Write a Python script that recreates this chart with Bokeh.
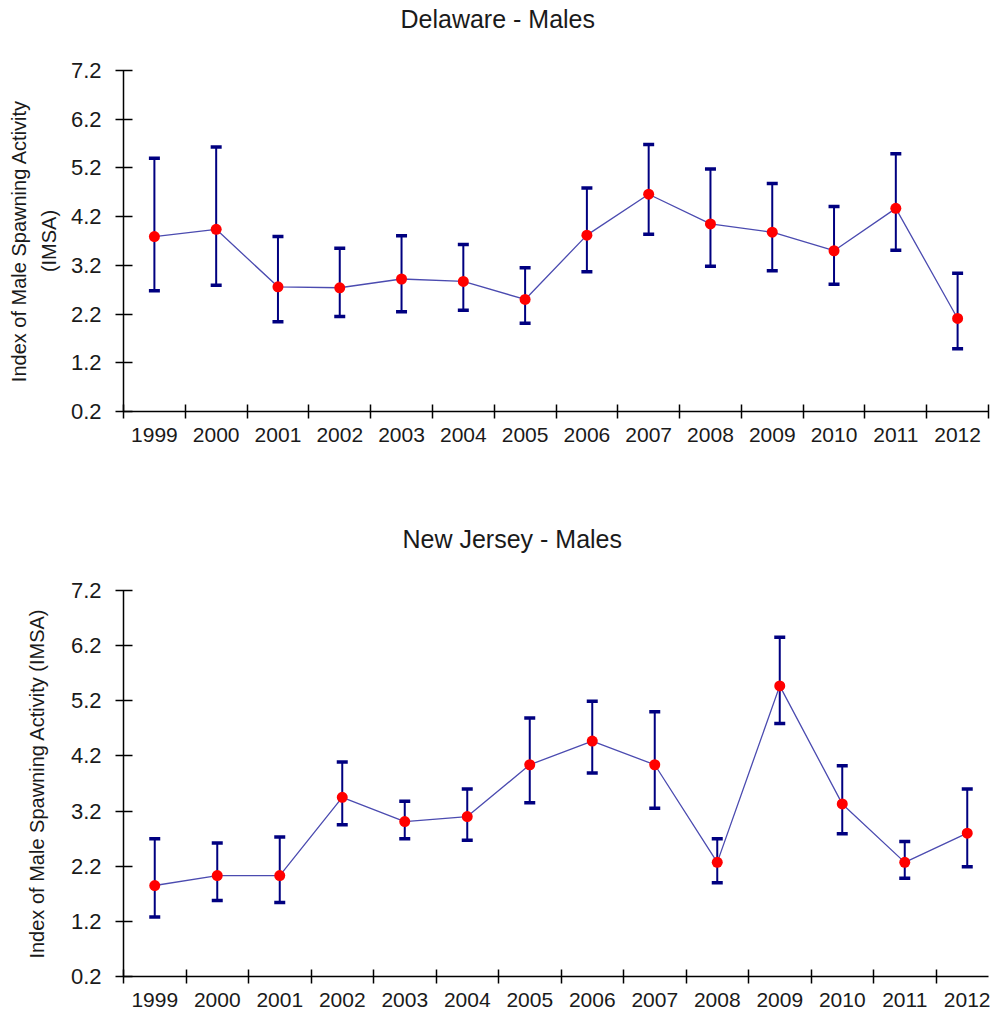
from bokeh.plotting import figure
from bokeh.layouts import column
from bokeh.models import (Range1d, FixedTicker, ColumnDataSource, Whisker, TeeHead, Title)
from bokeh.embed import file_html
from bokeh.resources import INLINE

# ---------------- data ----------------
years = ["1999", "2000", "2001", "2002", "2003", "2004", "2005",
         "2006", "2007", "2008", "2009", "2010", "2011", "2012"]

de_mean = [3.79, 3.94, 2.76, 2.74, 2.92, 2.87, 2.50, 3.82, 4.66, 4.05, 3.88, 3.50, 4.37, 2.11]
de_upper = [5.40, 5.63, 3.79, 3.55, 3.81, 3.63, 3.15, 4.79, 5.68, 5.18, 4.88, 4.41, 5.49, 3.04]
de_lower = [2.68, 2.79, 2.04, 2.15, 2.25, 2.28, 2.01, 3.07, 3.84, 3.18, 3.09, 2.81, 3.51, 1.49]

nj_mean = [1.85, 2.03, 2.03, 3.45, 3.01, 3.10, 4.04, 4.47, 4.04, 2.27, 5.47, 3.33, 2.27, 2.80]
nj_upper = [2.70, 2.62, 2.73, 4.09, 3.38, 3.60, 4.89, 5.19, 5.00, 2.70, 6.35, 4.02, 2.65, 3.60]
nj_lower = [1.28, 1.58, 1.54, 2.95, 2.70, 2.67, 3.35, 3.89, 3.25, 1.90, 4.79, 2.79, 1.98, 2.19]

y_ticks = [0.2, 1.2, 2.2, 3.2, 4.2, 5.2, 6.2, 7.2]

FONT = "Liberation Sans"
TXT = "#1a1a1a"


def make_panel(title, ylabel, mean, lower, upper, width, height, mb_top, mb_bottom,
               mb_right, x_end, title_offset, label_standoff):
    n = len(years)
    xs = [i + 0.5 for i in range(n)]
    p = figure(width=width, height=height, output_backend="svg", toolbar_location=None,
               x_range=Range1d(0, x_end), y_range=Range1d(0.2, 7.2),
               min_border_left=123, min_border_right=mb_right,
               min_border_top=mb_top, min_border_bottom=mb_bottom,
               background_fill_color="white", border_fill_color="white")
    # blank spacer between frame and title (title itself is outermost)
    p.add_layout(Title(text=" ", standoff=0, text_font=FONT, text_font_size="32px"), "above")
    p.title = Title(text=title, align="left", offset=title_offset, standoff=0,
                    text_font=FONT, text_font_size="25px", text_font_style="normal",
                    text_color=TXT)
    p.outline_line_color = None
    p.grid.visible = False

    # x axis: labels centred in each slot, boundary ticks as minor ticks
    xa = p.xaxis[0]
    xa.ticker = FixedTicker(ticks=xs, minor_ticks=list(range(n + 1)))
    xa.major_label_overrides = {x: y for x, y in zip(xs, years)}
    xa.major_tick_line_color = None
    xa.major_tick_in = 0
    xa.major_tick_out = 7
    xa.minor_tick_in = 7
    xa.minor_tick_out = 7
    xa.minor_tick_line_color = "black"
    xa.minor_tick_line_width = 1.5
    xa.axis_line_color = "black"
    xa.axis_line_width = 1.5
    xa.major_label_standoff = 9
    xa.major_label_text_font = FONT
    xa.major_label_text_font_size = "21px"
    xa.major_label_text_color = TXT

    ya = p.yaxis[0]
    ya.ticker = FixedTicker(ticks=y_ticks)
    ya.major_label_overrides = {v: f"{v:.1f}" for v in y_ticks}
    ya.major_tick_in = 9
    ya.major_tick_out = 8
    ya.major_tick_line_width = 1.5
    ya.major_tick_line_color = "black"
    ya.minor_tick_line_color = None
    ya.axis_line_color = "black"
    ya.axis_line_width = 1.5
    ya.major_label_standoff = 14
    ya.major_label_text_font = FONT
    ya.major_label_text_font_size = "22px"
    ya.major_label_text_color = TXT
    ya.axis_label = ylabel
    ya.axis_label_text_font = FONT
    ya.axis_label_text_font_size = "20px"
    ya.axis_label_text_font_style = "normal"
    ya.axis_label_text_color = TXT
    ya.axis_label_text_align = "center"
    ya.axis_label_text_line_height = 1.35
    ya.axis_label_standoff = label_standoff

    src = ColumnDataSource(dict(x=xs, y=mean, lo=lower, hi=upper))
    w = Whisker(base="x", upper="hi", lower="lo", source=src, level="underlay",
                line_color="#000080", line_width=2,
                upper_head=TeeHead(size=11, line_color="#000080", line_width=3.5),
                lower_head=TeeHead(size=11, line_color="#000080", line_width=3.5))
    p.add_layout(w)
    p.line("x", "y", source=src, line_color="#4b4bb0", line_width=1.3)
    p.scatter("x", "y", source=src, size=11, fill_color="#ff0000", line_color=None)
    return p


top = make_panel("Delaware - Males", "Index of Male Spawning Activity\n(IMSA)",
                 de_mean, de_lower, de_upper,
                 width=990, height=450, mb_top=70, mb_bottom=39, mb_right=2,
                 x_end=14, title_offset=277, label_standoff=8)

bottom = make_panel("New Jersey - Males", "Index of Male Spawning Activity (IMSA)",
                    nj_mean, nj_lower, nj_upper,
                    width=990, height=563, mb_top=140, mb_bottom=37, mb_right=0,
                    x_end=13.84, title_offset=279, label_standoff=20)

layout = column(top, bottom, spacing=0)
open("out.html", "w").write(file_html(layout, INLINE))
